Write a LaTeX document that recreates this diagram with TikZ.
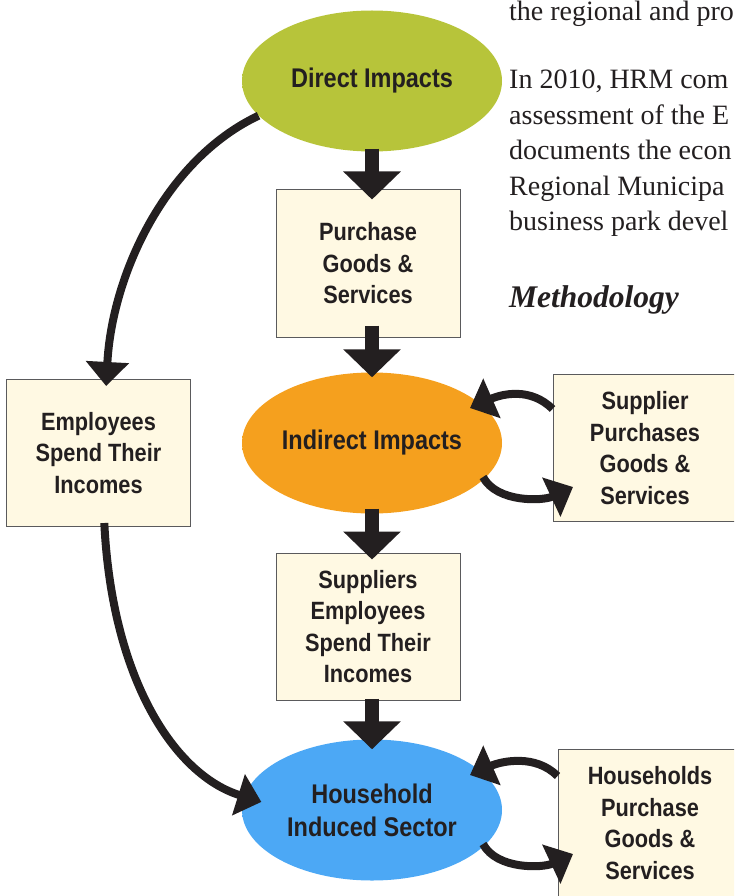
\documentclass[tikz,border=0pt]{standalone}
\usepackage{fontspec}
\setmainfont{Liberation Serif}
\newfontfamily\diagfont[FakeStretch=0.87]{Liberation Sans}
\usetikzlibrary{arrows.meta,calc,shapes.geometric}

\definecolor{textdark}{HTML}{231F20}
\definecolor{boxfill}{HTML}{FFF9E3}
\definecolor{boxline}{HTML}{5A5A5C}
\definecolor{directfill}{HTML}{B7C43A}
\definecolor{directrim}{HTML}{5E6810}
\definecolor{indirectfill}{HTML}{F5A01E}
\definecolor{indirectrim}{HTML}{904E06}
\definecolor{housefill}{HTML}{4CA8F5}
\definecolor{houserim}{HTML}{1A5498}

\pgfdeclareradialshading{rimgreen}{\pgfpoint{-7bp}{9bp}}{color(0bp)=(directfill); color(36bp)=(directfill); color(50bp)=(directrim)}
\pgfdeclareradialshading{rimorange}{\pgfpoint{-7bp}{9bp}}{color(0bp)=(indirectfill); color(36bp)=(indirectfill); color(50bp)=(indirectrim)}
\pgfdeclareradialshading{rimblue}{\pgfpoint{-7bp}{9bp}}{color(0bp)=(housefill); color(36bp)=(housefill); color(50bp)=(houserim)}

\begin{document}
\begin{tikzpicture}[x=1pt,y=-1pt,
    diagtext/.style={font=\diagfont\bfseries\fontsize{25}{31.5}\selectfont, text=textdark, align=center},
    impact/.style={diagtext, font=\diagfont\bfseries\fontsize{27}{33}\selectfont, ellipse, minimum width=260pt, minimum height=141pt, inner sep=0pt},
    stepbox/.style={diagtext, rectangle, draw=boxline, line width=1pt, fill=boxfill, minimum width=184pt, minimum height=147pt, inner sep=0pt},
    flow/.style={draw=textdark, line width=14pt, -{Triangle[width=56pt,length=28pt]}},
    swing/.style={draw=textdark, line width=8pt, -{Triangle[width=42pt,length=24pt]}},
    para/.style={anchor=base west, inner sep=0pt, text=textdark, font=\fontsize{28}{35}\selectfont}]
    \useasboundingbox (0,0) rectangle (734,896);
    \clip (0,0) rectangle (734,896);
    %\draw [help lines] (0,0) grid (734,896);

    % text of the page
    \node[para] (line1) at (509,21) {the regional and pro};
    \node[para] (line2) at (509,89) {In 2010, HRM com};
    \node[para] (line3) at (509,124.5) {assessment of the E};
    \node[para] (line4) at (509,159.5) {documents the econ};
    \node[para] (line5) at (509,195) {Regional Municipa};
    \node[para] (line6) at (509,230) {business park devel};
    \node[para, font=\bfseries\itshape\fontsize{31.5}{35}\selectfont] (methodology) at (509,307) {Methodology};

    % impacts
    \node[impact, shading=rimgreen] (direct) at (372,81) {Direct Impacts};
    \node[impact, shading=rimorange] (indirect) at (372,443) {Indirect Impacts};
    \node[impact, shading=rimblue] (household) at (372,810) {Household\\Induced Sector};

    % spending
    \node[stepbox] (purchase) at (368,263.5) {Purchase\\Goods \&\\Services};
    \node[stepbox] (suppemp) at (368,626.5) {Suppliers\\Employees\\Spend Their\\Incomes};
    \node[stepbox] (employees) at (98.5,453) {Employees\\Spend Their\\Incomes};
    \node[stepbox] (supplier) at (645,448) {Supplier\\Purchases\\Goods \&\\Services};
    \node[stepbox] (households) at (650,823) {Households\\Purchase\\Goods \&\\Services};

    % down the middle
    \draw[flow, shorten <=-3pt, shorten >=-10pt] (direct.south) -- (direct.south |- purchase.north);
    \draw[flow, shorten <=-12pt, shorten >=-5pt] (indirect.north |- purchase.south) -- (indirect.north);
    \draw[flow, shorten <=-5pt, shorten >=-7pt] (indirect.south) -- (indirect.south |- suppemp.north);
    \draw[flow, shorten <=-2pt, shorten >=-10pt] (household.north |- suppemp.south) -- (household.north);

    % round the left
    \draw[swing, shorten >=-7pt] (direct.197) .. controls (165,160) and (112,275) .. ([xshift=8pt]employees.north);
    \draw[swing, shorten <=-4pt, shorten >=-18pt] ([xshift=6pt]employees.south) .. controls (112,680) and (175,775) .. (household.174);

    % loops on the right
    \draw[swing] ($(indirect.center -| supplier.west)+(0,-34)$) .. controls +(-22,-22) and +(32,-14) .. ($(indirect.center)+(98,-35)$);
    \draw[swing] ($(indirect.center)+(111,34)$) .. controls +(14,26) and +(-30,14) .. ($(indirect.center)+(201,44)$);
    \draw[swing] ($(household.center -| households.west)+(0,-34)$) .. controls +(-22,-22) and +(32,-14) .. ($(household.center)+(98,-35)$);
    \draw[swing] ($(household.center)+(111,34)$) .. controls +(14,26) and +(-30,14) .. ($(household.center)+(201,44)$);
\end{tikzpicture}
\end{document}
